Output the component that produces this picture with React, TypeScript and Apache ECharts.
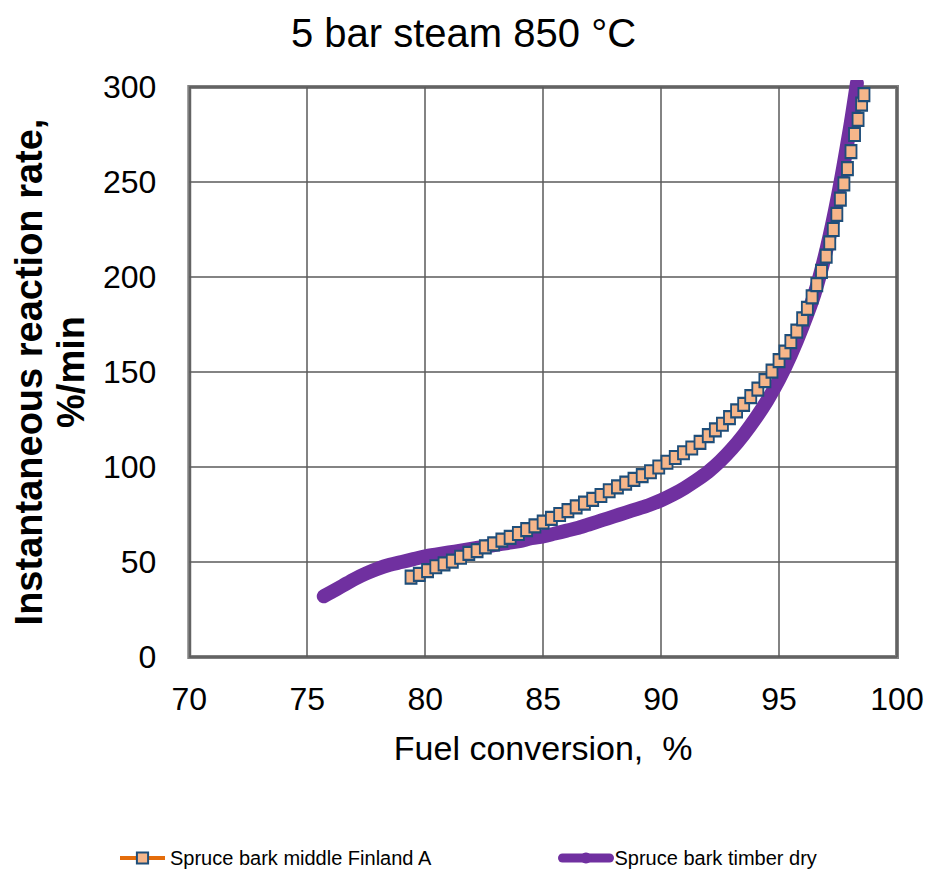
import React, { useEffect, useRef } from 'react';
import * as echarts from 'echarts';

const chartTitle = '5 bar steam 850 °C';
const xAxisName = 'Fuel conversion,  %';
const yAxisName = 'Instantaneous reaction rate,\n%/min';
const seriesNames = ['Spruce bark middle Finland A', 'Spruce bark timber dry'];

const finlandX = [
  79.4, 79.75, 80.1, 80.45, 80.8, 81.15, 81.5, 81.85, 82.2, 82.55, 82.9, 83.25, 83.6, 83.95,
  84.3, 84.65, 85.0, 85.35, 85.7, 86.05, 86.4, 86.75, 87.1, 87.45, 87.8, 88.15, 88.5, 88.85,
  89.2, 89.55, 89.9, 90.25, 90.6, 90.95, 91.3, 91.65, 92.0, 92.3, 92.6, 92.9, 93.2, 93.5,
  93.8, 94.1, 94.4, 94.7, 95.0, 95.25, 95.5, 95.75, 96.0, 96.2, 96.4, 96.6, 96.8, 97.0,
  97.15, 97.3, 97.45, 97.6, 97.75, 97.9, 98.05, 98.2, 98.35, 98.5, 98.6,
];
const finlandY = [
  42, 43.5, 45.5, 47.5, 49, 50.5, 52.5, 54.5, 56, 58, 59.5, 61.5, 63, 65,
  67, 69, 71, 73, 75, 77, 79, 81, 83, 85, 87.5, 89.5, 91.5, 93.5,
  95.5, 97.5, 100, 102.5, 105, 107.5, 110, 113, 116.5, 119.5, 122.5, 126, 129.5, 133,
  137, 141, 145.5, 150.5, 156, 160.5, 166, 171.5, 178, 183.5, 189.5, 196, 203, 211,
  218, 225, 233, 241, 249, 257, 266, 275, 283, 291, 296,
];

const timberX = [
  75.7, 76.0, 76.5, 77.0, 77.5, 78.0, 78.5, 79.0, 79.5, 80.0, 80.5, 81.0, 81.5, 82.0,
  82.5, 83.0, 83.5, 84.0, 84.5, 85.0, 85.5, 86.0, 86.5, 87.0, 87.5, 88.0, 88.5, 89.0,
  89.5, 90.0, 90.5, 91.0, 91.5, 92.0, 92.5, 93.0, 93.5, 94.0, 94.5, 95.0, 95.5, 96.0,
  96.5, 97.0, 97.5, 98.0, 98.3,
];
const timberY = [
  32, 34, 37.5, 41, 44, 46.5, 48.5, 50, 51.5, 53, 54, 55, 56, 57,
  58, 59, 60, 61, 62.5, 63.5, 65, 66.5, 68, 70, 72, 74, 76, 78,
  80, 82.5, 85.5, 89, 93, 97.5, 103, 109.5, 117, 125.5, 135, 146, 159, 174,
  191, 214, 243, 278, 302,
];

const font = "'Liberation Sans', Arial, Helvetica, sans-serif";

export default function App() {
  const ref = useRef<HTMLDivElement>(null);

  useEffect(() => {
    if (!ref.current) return;
    const chart = echarts.init(ref.current, null, { renderer: 'svg' });
    chart.setOption({
      animation: false,
      backgroundColor: '#ffffff',
      title: {
        text: chartTitle,
        left: 'center',
        top: 8,
        textStyle: { fontFamily: font, fontSize: 40, fontWeight: 'normal', color: '#000' },
      },
      grid: {
        left: 188,
        top: 87,
        width: 709,
        height: 570,
        show: true,
        borderColor: '#808080',
        borderWidth: 4,
        backgroundColor: 'transparent',
      },
      xAxis: {
        type: 'value',
        min: 70,
        max: 100,
        interval: 5,
        axisLine: { show: false },
        axisTick: { show: false },
        splitLine: { show: true, lineStyle: { color: '#5a5a5a', width: 1.5 } },
        axisLabel: { fontFamily: font, fontSize: 32, color: '#000', margin: 26 },
        name: xAxisName,
        nameLocation: 'middle',
        nameGap: 74,
        nameTextStyle: { fontFamily: font, fontSize: 34, color: '#000' },
      },
      yAxis: {
        type: 'value',
        min: 0,
        max: 300,
        interval: 50,
        axisLine: { show: false },
        axisTick: { show: false },
        splitLine: { show: true, lineStyle: { color: '#5a5a5a', width: 1.5 } },
        axisLabel: { fontFamily: font, fontSize: 32, color: '#000', margin: 33 },
        name: yAxisName,
        nameLocation: 'middle',
        nameRotate: 90,
        nameGap: 97,
        nameTextStyle: {
          fontFamily: font,
          fontSize: 38,
          fontWeight: 'bold',
          color: '#000',
          lineHeight: 42,
          align: 'center',
        },
      },
      legend: [
        {
          data: [seriesNames[0]],
          left: 118,
          top: 848,
          padding: 0,
          itemWidth: 45,
          itemHeight: 14,
          itemGap: 0,
          lineStyle: { width: 4 },
          textStyle: { fontFamily: font, fontSize: 20, color: '#000' },
        },
        {
          data: [seriesNames[1]],
          left: 558,
          top: 848,
          padding: 0,
          itemWidth: 47,
          itemHeight: 14,
          itemGap: 0,
          lineStyle: { width: 9, cap: 'round' },
          textStyle: { fontFamily: font, fontSize: 20, color: '#000' },
        },
      ],
      series: [
        {
          name: seriesNames[0],
          type: 'line',
          data: finlandX.map((x, i) => [x, finlandY[i]]),
          symbol: 'rect',
          symbolSize: [11, 13],
          showSymbol: true,
          itemStyle: { color: '#F6B68A', borderColor: '#1F4E79', borderWidth: 2 },
          lineStyle: { color: '#E46C0A', width: 2 },
        },
        {
          name: seriesNames[1],
          type: 'line',
          data: timberX.map((x, i) => [x, timberY[i]]),
          symbol: 'none',
          smooth: 0.3,
          itemStyle: { color: '#7030A0' },
          lineStyle: { color: '#7030A0', width: 14, cap: 'round', join: 'round' },
        },
      ],
    });
    return () => chart.dispose();
  }, []);

  return (
    <div
      ref={ref}
      style={{ position: 'fixed', left: 0, top: 0, width: 927, height: 879, background: '#fff' }}
    />
  );
}
